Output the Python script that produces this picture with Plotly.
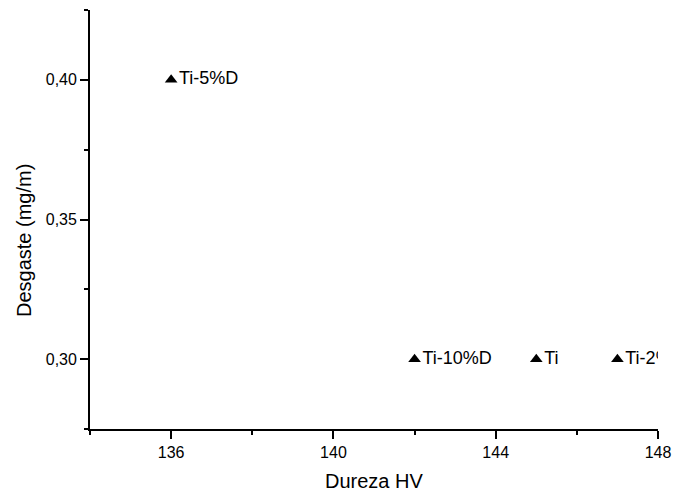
import plotly.graph_objects as go

dureza = [136, 142, 145, 147]
desgaste = [0.40, 0.30, 0.30, 0.30]
labels = ["Ti-5%D", "Ti-10%D", "Ti", "Ti-2%D"]

x_ticks = [136, 140, 144, 148]
x_minor = [134, 138, 142, 146]
y_ticks = [0.30, 0.35, 0.40]
y_minor = [0.275, 0.325, 0.375, 0.425]

FONT = "Arial, Liberation Sans, sans-serif"

# plot-area geometry (pixels)
W, H = 674, 494
L, R, T, B = 90, 16, 10, 65
pw, ph = W - L - R, H - T - B

fig = go.Figure()
fig.add_trace(go.Scatter(
    x=dureza, y=desgaste, mode="markers+text",
    text=labels, textposition="middle right",
    marker=dict(symbol="triangle-up", size=11, color="black"),
    textfont=dict(family=FONT, size=18, color="black"),
    cliponaxis=True, showlegend=False,
))

axis_common = dict(
    showgrid=False, zeroline=False, showline=True, linecolor="black", linewidth=1.8,
    ticks="outside", tickcolor="black", tickwidth=1.8, ticklen=8,
    tickfont=dict(family=FONT, size=16, color="black"), automargin=False,
)
minor_common = dict(ticks="outside", ticklen=4, tickcolor="black", tickwidth=1.8)

fig.update_xaxes(range=[134, 148], tickvals=x_ticks,
                 minor=dict(tickvals=x_minor, **minor_common), **axis_common)
fig.update_yaxes(range=[0.275, 0.425], tickvals=y_ticks, tickformat=".2f",
                 minor=dict(tickvals=y_minor, **minor_common), **axis_common)

fig.add_annotation(text="Dureza HV", xref="paper", yref="paper",
                   x=0.5, y=(H - B - 481) / ph,
                   xanchor="center", yanchor="middle", showarrow=False,
                   font=dict(family=FONT, size=20, color="black"))
fig.add_annotation(text="Desgaste (mg/m)", xref="paper", yref="paper",
                   x=(24 - L) / pw, y=(H - B - 241) / ph,
                   xanchor="center", yanchor="middle", showarrow=False, textangle=-90,
                   font=dict(family=FONT, size=20, color="black"))

fig.update_layout(
    width=W, height=H,
    margin=dict(l=L, r=R, t=T, b=B),
    plot_bgcolor="white", paper_bgcolor="white",
    separators=",.",
)

fig.write_html("out.html")
